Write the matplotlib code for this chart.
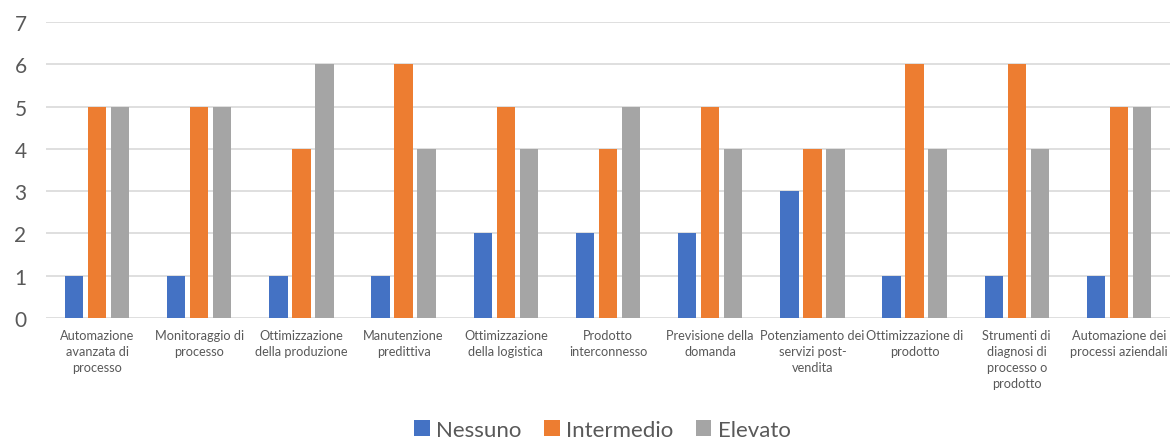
import numpy as np
import matplotlib.pyplot as plt

categorie = ["Automazione\navanzata di\nprocesso", "Monitoraggio di\nprocesso",
             "Ottimizzazione\ndella produzione", "Manutenzione\npredittiva",
             "Ottimizzazione\ndella logistica", "Prodotto\ninterconnesso",
             "Previsione della\ndomanda", "Potenziamento dei\nservizi post-\nvendita",
             "Ottimizzazione di\nprodotto", "Strumenti di\ndiagnosi di\nprocesso o\nprodotto",
             "Automazione dei\nprocessi aziendali"]
nessuno = [1, 1, 1, 1, 2, 2, 2, 3, 1, 1, 1]
intermedio = [5, 5, 4, 6, 5, 4, 5, 4, 6, 6, 5]
elevato = [5, 5, 6, 4, 4, 5, 4, 4, 4, 4, 5]

plt.rcParams['font.family'] = ['Lato', 'DejaVu Sans']
testo = '#595959'

fig = plt.figure(figsize=(11.7, 4.39), dpi=100)
ax = fig.add_axes([0.0393, 0.2733, 0.9607, 0.6743])

x = np.arange(len(categorie))
w = 0.18
ax.bar(x - 0.225, nessuno, w, color='#4472C4', label='Nessuno', zorder=3)
ax.bar(x, intermedio, w, color='#ED7D31', label='Intermedio', zorder=3)
ax.bar(x + 0.225, elevato, w, color='#A5A5A5', label='Elevato', zorder=3)

ax.set_xlim(-0.5, 10.5)
ax.set_ylim(0, 7)
ax.set_yticks(range(8))
ax.grid(axis='y', color='#D9D9D9', linewidth=1.2, zorder=0)
for s in ax.spines.values():
    s.set_visible(False)
ax.tick_params(axis='both', length=0)
ax.tick_params(axis='y', labelsize=15, labelcolor=testo, pad=14)
ax.set_xticks(x)
ax.set_xticklabels(categorie, fontsize=9.2, color=testo, linespacing=1.4, va='top')
ax.tick_params(axis='x', pad=8)

fig.legend(loc='lower center', bbox_to_anchor=(0.515, -0.05), ncol=3, frameon=False,
           fontsize=16, labelcolor=testo, handlelength=0.7, handleheight=0.7,
           handletextpad=0.3, columnspacing=1.0)

plt.savefig('out.png', dpi=100)
